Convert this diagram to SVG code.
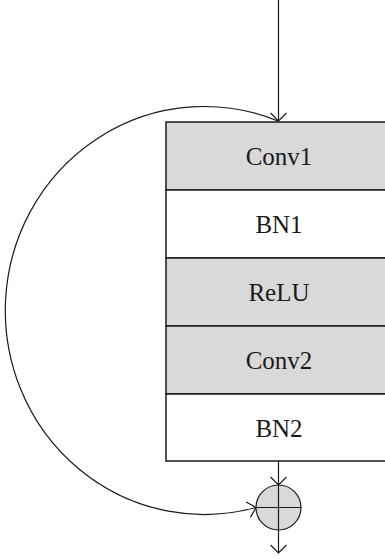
<svg xmlns="http://www.w3.org/2000/svg" width="385" height="559" viewBox="0 0 385 559">
  <style>
    .layer { fill: #d9d9d9; stroke: #1a1a1a; stroke-width: 1.5; }
    .layer.plain { fill: #ffffff; }
    .label { font-family: "Liberation Serif", "DejaVu Serif", serif; font-size: 25px; fill: #1a1a1a; text-anchor: middle; }
    .wire { fill: none; stroke: #1a1a1a; stroke-width: 1.2; }
  </style>
  <defs>
    <marker id="open" viewBox="-10 -10 20 20" refX="0" refY="0" markerWidth="20" markerHeight="20" markerUnits="userSpaceOnUse" orient="auto">
      <path d="M-8,-8 L0,0 L-8,8" fill="none" stroke="#1a1a1a" stroke-width="1.2"/>
    </marker>
  </defs>

  <rect width="385" height="559" fill="#ffffff"/>

  <g id="conv1">
    <rect class="layer" x="166" y="122" width="230" height="68"/>
    <text class="label" x="279" y="165">Conv1</text>
  </g>
  <g id="bn1">
    <rect class="layer plain" x="166" y="190" width="230" height="68"/>
    <text class="label" x="279" y="233">BN1</text>
  </g>
  <g id="relu">
    <rect class="layer" x="166" y="258" width="230" height="68"/>
    <text class="label" x="279" y="301">ReLU</text>
  </g>
  <g id="conv2">
    <rect class="layer" x="166" y="326" width="230" height="68"/>
    <text class="label" x="279" y="369">Conv2</text>
  </g>
  <g id="bn2">
    <rect class="layer plain" x="166" y="394" width="230" height="67"/>
    <text class="label" x="279" y="437">BN2</text>
  </g>

  <g id="add">
    <circle cx="278.5" cy="507.5" r="22.5" fill="#d9d9d9" stroke="#1a1a1a" stroke-width="1.2"/>
    <line class="wire" x1="278.5" y1="485" x2="278.5" y2="530"/>
    <line class="wire" x1="256" y1="507.5" x2="301" y2="507.5"/>
  </g>

  <g id="connectors">
    <line class="wire" x1="278.5" y1="0" x2="278.5" y2="121" marker-end="url(#open)"/>
    <path class="wire" d="M278,121 A199,204 0 1 0 256,507.5" marker-end="url(#open)"/>
    <line class="wire" x1="278.5" y1="461" x2="278.5" y2="485" marker-end="url(#open)"/>
    <line class="wire" x1="278.5" y1="530" x2="278.5" y2="553" marker-end="url(#open)"/>
  </g>
</svg>
